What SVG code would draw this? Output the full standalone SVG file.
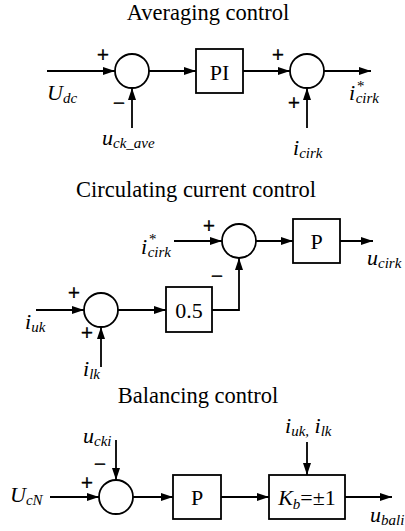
<svg xmlns="http://www.w3.org/2000/svg" width="405" height="531" viewBox="0 0 405 531">
<style>
.t{font-family:"Liberation Serif","Times New Roman",serif;font-size:22.5px;fill:#000}
.b{font-family:"Liberation Serif","Times New Roman",serif;font-size:22px;fill:#000}
.l{font-family:"Liberation Serif","Times New Roman",serif;font-size:22px;font-style:italic;fill:#000}
.s{font-size:15px}
.sg{font-family:"Liberation Serif","Times New Roman",serif;font-size:21px;fill:#000;stroke:#000;stroke-width:0.6;text-anchor:middle}
.n{fill:#fff;stroke:#000;stroke-width:1.8}
.c{fill:none;stroke:#000;stroke-width:1.8}
</style>
<defs>
<marker id="a" markerUnits="userSpaceOnUse" markerWidth="13" markerHeight="9" refX="12" refY="4" orient="auto">
<path d="M0,0 L12,4 L0,8 z" fill="#000"/>
</marker>
</defs>
<text class="t" x="208" y="20" text-anchor="middle">Averaging control</text>
<text class="t" x="196" y="197" text-anchor="middle">Circulating current control</text>
<text class="t" x="198" y="403" text-anchor="middle">Balancing control</text>

<g id="connectors">
<path class="c" marker-end="url(#a)" d="M47 71 H115"/>
<path class="c" marker-end="url(#a)" d="M149 71 H196"/>
<path class="c" marker-end="url(#a)" d="M243 71 H290"/>
<path class="c" marker-end="url(#a)" d="M324 71 H371"/>
<path class="c" marker-end="url(#a)" d="M132 128 V88"/>
<path class="c" marker-end="url(#a)" d="M307 128 V88"/>

<path class="c" marker-end="url(#a)" d="M174 241 H222"/>
<path class="c" marker-end="url(#a)" d="M256 241 H293"/>
<path class="c" marker-end="url(#a)" d="M340 241 H373"/>
<path class="c" marker-end="url(#a)" d="M36 310 H84"/>
<path class="c" marker-end="url(#a)" d="M118 310 H166"/>
<path class="c" marker-end="url(#a)" d="M212 310 H239 V258"/>
<path class="c" marker-end="url(#a)" d="M101 367 V327"/>

<path class="c" marker-end="url(#a)" d="M50 497 H99"/>
<path class="c" marker-end="url(#a)" d="M116 440 V480"/>
<path class="c" marker-end="url(#a)" d="M133 497 H173"/>
<path class="c" marker-end="url(#a)" d="M221 497 H269"/>
<path class="c" marker-end="url(#a)" d="M307 442 V475"/>
<path class="c" marker-end="url(#a)" d="M345 497 H392"/>
</g>

<g id="sum1"><circle class="n" cx="132" cy="71" r="17"/></g>
<g id="pi"><rect class="n" x="196" y="49" width="47" height="44"/><text class="b" x="219.5" y="80" text-anchor="middle">PI</text></g>
<g id="sum2"><circle class="n" cx="307" cy="71" r="17"/></g>

<g id="sum3"><circle class="n" cx="239" cy="241" r="17"/></g>
<g id="p1"><rect class="n" x="293" y="219" width="47" height="44"/><text class="b" x="316.5" y="249" text-anchor="middle">P</text></g>
<g id="sum4"><circle class="n" cx="101" cy="310" r="17"/></g>
<g id="half"><rect class="n" x="166" y="287" width="46" height="45"/><text class="b" x="189" y="318" text-anchor="middle">0.5</text></g>

<g id="sum5"><circle class="n" cx="116" cy="497" r="17"/></g>
<g id="p2"><rect class="n" x="173" y="475" width="48" height="44"/><text class="b" x="197" y="505" text-anchor="middle">P</text></g>
<g id="kb"><rect class="n" x="269" y="475" width="76" height="44"/><text class="b" x="307" y="505" text-anchor="middle"><tspan font-style="italic">K</tspan><tspan class="s" font-style="italic" dy="4">b</tspan><tspan dy="-4">=±1</tspan></text></g>

<g id="signs">
<text class="sg" x="103" y="62">+</text>
<text class="sg" x="119" y="110">−</text>
<text class="sg" x="278" y="62">+</text>
<text class="sg" x="294" y="110">+</text>
<text class="sg" x="209" y="233">+</text>
<text class="sg" x="217" y="283">−</text>
<text class="sg" x="74" y="300">+</text>
<text class="sg" x="87" y="340">+</text>
<text class="sg" x="100" y="471">−</text>
<text class="sg" x="87" y="490">+</text>
</g>

<g id="labels">
<text class="l" x="47" y="100">U<tspan class="s" dy="3">dc</tspan></text>
<text class="l" x="102" y="145">u<tspan class="s" dy="3">ck_ave</tspan></text>
<text class="l" x="349" y="100">i<tspan class="s" dx="1" dy="-9">*</tspan><tspan class="s" dx="-8" dy="12">cirk</tspan></text>
<text class="l" x="293" y="155">i<tspan class="s" dy="3">cirk</tspan></text>
<text class="l" x="141" y="254">i<tspan class="s" dx="1" dy="-10">*</tspan><tspan class="s" dx="-8" dy="13">cirk</tspan></text>
<text class="l" x="367" y="265">u<tspan class="s" dy="3">cirk</tspan></text>
<text class="l" x="25" y="329">i<tspan class="s" dy="3">uk</tspan></text>
<text class="l" x="83" y="376">i<tspan class="s" dy="3">lk</tspan></text>
<text class="l" x="10" y="502">U<tspan class="s" dy="3">cN</tspan></text>
<text class="l" x="83" y="443">u<tspan class="s" dy="3">cki</tspan></text>
<text class="l" x="285" y="433">i<tspan class="s" dy="3">uk,</tspan><tspan dy="-3"> i</tspan><tspan class="s" dy="3">lk</tspan></text>
<text class="l" x="370" y="522">u<tspan class="s" dy="3">bali</tspan></text>
</g>
</svg>
